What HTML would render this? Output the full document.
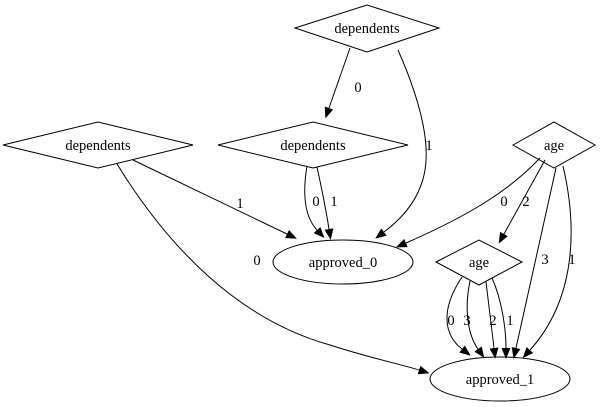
<!DOCTYPE html>
<html><head><meta charset="utf-8"><style>html,body{margin:0;padding:0;background:#fff}svg{display:block}text{font-family:"Liberation Serif",serif;font-size:14.5px}</style></head>
<body>
<svg width="603" height="407" viewBox="0 0 603 407" xmlns="http://www.w3.org/2000/svg">
<defs><marker id="a" markerWidth="11" markerHeight="9" refX="0" refY="4.5" orient="auto" markerUnits="userSpaceOnUse"><path d="M0,0 L11,4.5 L0,9 z" fill="#000"/></marker></defs>
<g fill="none" stroke="#000" stroke-width="1">
<polygon points="295,28 367,5 439,28 367,52"/>
<polygon points="218,145 313,122 408,145 313,168"/>
<polygon points="3,145 98,122 193,145 98,168"/>
<polygon points="513,145 554,122 595,145 554,168"/>
<polygon points="436,262 479,240 522,262 479,285"/>
<ellipse cx="343" cy="262" rx="70" ry="22"/>
<ellipse cx="500" cy="379" rx="70" ry="22"/>
<g marker-end="url(#a)">
<path d="M350,48 L329,108"/>
<path d="M398,50 C420,100 430,140 425,170 C420,200 400,220 384,232"/>
<path d="M307,166 C303,190 303,215 317,230"/>
<path d="M317,167 C322,190 326,210 329,229"/>
<path d="M133,160 L287,234"/>
<path d="M117,164 C170,250 240,320 330,345 C370,358 400,364 419,370"/>
<path d="M540,158 C510,190 470,215 406,243"/>
<path d="M545,160 L504,234"/>
<path d="M556,168 L516,348"/>
<path d="M563,166 C578,230 575,300 530,350"/>
<path d="M462,277 C440,310 444,335 462,349"/>
<path d="M470,281 C464,310 468,335 478,349"/>
<path d="M486,282 L494,348"/>
<path d="M492,278 C502,300 506,330 506,348"/>
</g>
</g>
<g text-anchor="middle" fill="#000">
<text x="367" y="33">dependents</text>
<text x="313" y="150">dependents</text>
<text x="98" y="150">dependents</text>
<text x="554" y="150">age</text>
<text x="479" y="267">age</text>
<text x="343" y="267">approved_0</text>
<text x="500" y="384">approved_1</text>
<text x="358" y="92">0</text>
<text x="429" y="150">1</text>
<text x="316" y="206">0</text>
<text x="334" y="206">1</text>
<text x="240" y="208">1</text>
<text x="257" y="265">0</text>
<text x="504" y="206">0</text>
<text x="526" y="206">2</text>
<text x="545" y="264">3</text>
<text x="572" y="264">1</text>
<text x="451" y="325">0</text>
<text x="467" y="325">3</text>
<text x="493" y="325">2</text>
<text x="510" y="325">1</text>
</g>
</svg>
</body></html>
